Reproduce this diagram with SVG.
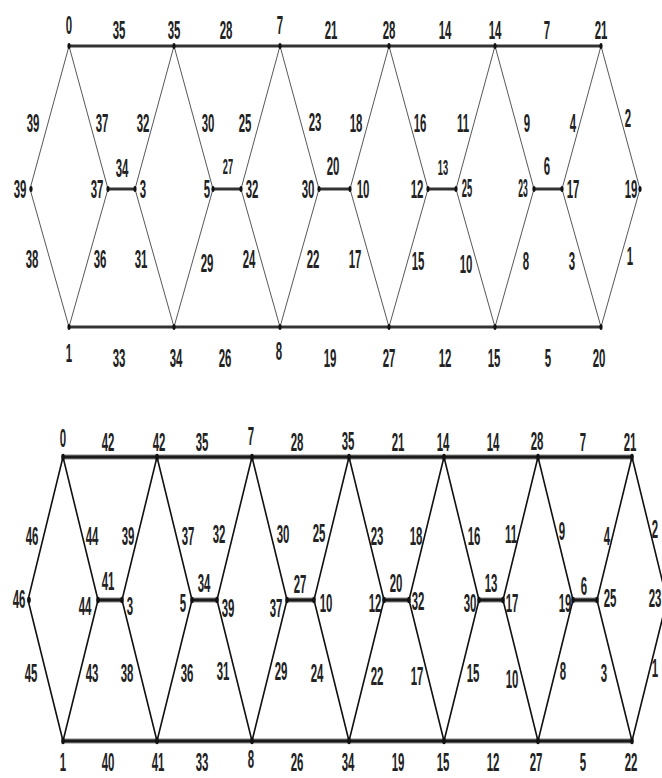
<svg xmlns="http://www.w3.org/2000/svg" width="662" height="778" viewBox="0 0 662 778">
<style>
.t{font-family:"Liberation Sans",Arial,sans-serif;font-weight:bold;font-size:26px;fill:#222;text-anchor:middle}
.s{font-size:22px}
.h1{stroke:#9a9a9a;stroke-width:4;fill:none}
.h1i{stroke:#333;stroke-width:2;fill:none}
.d1{stroke:#444;stroke-width:0.9;fill:none}
.h2{stroke:#888;stroke-width:5;fill:none}
.h2i{stroke:#1a1a1a;stroke-width:3;fill:none}
.d2{stroke:#111;stroke-width:1.6;fill:none}
.m{fill:#111}
</style>
<rect width="662" height="778" fill="#fff"/>
<g id="connectors">
<path class="h1" d="M69 46H601M69 327H601M108 189H135M213 189H241M319 189H350M428 189H456M534 189H562"/>
<path class="h1i" d="M69 46H601M69 327H601M108 189H135M213 189H241M319 189H350M428 189H456M534 189H562"/>
<path class="d1" d="M30 189L69 46L108 189M135 189L174 46L213 189M241 189L280 46L319 189M350 189L389 46L428 189M456 189L495 46L534 189M562 189L601 46L640 189
M30 189L69 327L108 189M135 189L174 327L213 189M241 189L280 327L319 189M350 189L389 327L428 189M456 189L495 327L534 189M562 189L601 327L640 189"/>
<path class="h2" d="M63 457H632M63 741H632M98 600H122M192 600H217M287 600H314M384 600H409M479 600H503M573 600H597"/>
<path class="h2i" d="M63 457H632M63 741H632M98 600H122M192 600H217M287 600H314M384 600H409M479 600H503M573 600H597"/>
<path class="d2" d="M28 600L63 457L98 600M122 600L157 457L192 600M217 600L252 457L287 600M314 600L349 457L384 600M409 600L444 457L479 600M503 600L538 457L573 600M597 600L632 457L667 600
M28 600L63 741L98 600M122 600L157 741L192 600M217 600L252 741L287 600M314 600L349 741L384 600M409 600L444 741L479 600M503 600L538 741L573 600M597 600L632 741L667 600"/>
<text class="t" transform="translate(119 39) scale(.44 1)">35</text>
<text class="t" transform="translate(226 39) scale(.44 1)">28</text>
<text class="t" transform="translate(331 39) scale(.44 1)">21</text>
<text class="t" transform="translate(445 39) scale(.44 1)">14</text>
<text class="t" transform="translate(547 39) scale(.44 1)">7</text>
<text class="t" transform="translate(33 132) scale(.44 1)">39</text>
<text class="t" transform="translate(102 132) scale(.44 1)">37</text>
<text class="t" transform="translate(143 132) scale(.44 1)">32</text>
<text class="t" transform="translate(208 132) scale(.44 1)">30</text>
<text class="t" transform="translate(245 132) scale(.44 1)">25</text>
<text class="t" transform="translate(315 131) scale(.44 1)">23</text>
<text class="t" transform="translate(356 132) scale(.44 1)">18</text>
<text class="t" transform="translate(420 132) scale(.44 1)">16</text>
<text class="t" transform="translate(463 132) scale(.44 1)">11</text>
<text class="t" transform="translate(527 132) scale(.44 1)">9</text>
<text class="t" transform="translate(573 132) scale(.44 1)">4</text>
<text class="t" transform="translate(628 127) scale(.44 1)">2</text>
<text class="t" transform="translate(122 177) scale(.44 1)">34</text>
<text class="t s" transform="translate(228 174) scale(.42 1)">27</text>
<text class="t" transform="translate(333 175) scale(.44 1)">20</text>
<text class="t s" transform="translate(443 175) scale(.42 1)">13</text>
<text class="t" transform="translate(547 175) scale(.44 1)">6</text>
<text class="t" transform="translate(32 268) scale(.44 1)">38</text>
<text class="t" transform="translate(100 268) scale(.44 1)">36</text>
<text class="t" transform="translate(141 268) scale(.44 1)">31</text>
<text class="t" transform="translate(207 272) scale(.44 1)">29</text>
<text class="t" transform="translate(249 268) scale(.44 1)">24</text>
<text class="t" transform="translate(313 268) scale(.44 1)">22</text>
<text class="t" transform="translate(355 268) scale(.44 1)">17</text>
<text class="t" transform="translate(418 270) scale(.44 1)">15</text>
<text class="t" transform="translate(466 273) scale(.44 1)">10</text>
<text class="t" transform="translate(526 270) scale(.44 1)">8</text>
<text class="t" transform="translate(572 270) scale(.44 1)">3</text>
<text class="t" transform="translate(630 265) scale(.44 1)">1</text>
<text class="t" transform="translate(119 367) scale(.44 1)">33</text>
<text class="t" transform="translate(225 367) scale(.44 1)">26</text>
<text class="t" transform="translate(330 367) scale(.44 1)">19</text>
<text class="t" transform="translate(445 367) scale(.44 1)">12</text>
<text class="t" transform="translate(548 367) scale(.44 1)">5</text>
<text class="t" transform="translate(108 451) scale(.44 1)">42</text>
<text class="t" transform="translate(202 451) scale(.44 1)">35</text>
<text class="t" transform="translate(297 451) scale(.44 1)">28</text>
<text class="t" transform="translate(398 451) scale(.44 1)">21</text>
<text class="t" transform="translate(493 451) scale(.44 1)">14</text>
<text class="t" transform="translate(583 451) scale(.44 1)">7</text>
<text class="t" transform="translate(32 545) scale(.44 1)">46</text>
<text class="t" transform="translate(92 545) scale(.44 1)">44</text>
<text class="t" transform="translate(128 545) scale(.44 1)">39</text>
<text class="t" transform="translate(188 545) scale(.44 1)">37</text>
<text class="t" transform="translate(219 543) scale(.44 1)">32</text>
<text class="t" transform="translate(283 543) scale(.44 1)">30</text>
<text class="t" transform="translate(319 542) scale(.44 1)">25</text>
<text class="t" transform="translate(377 545) scale(.44 1)">23</text>
<text class="t" transform="translate(416 545) scale(.44 1)">18</text>
<text class="t" transform="translate(474 545) scale(.44 1)">16</text>
<text class="t" transform="translate(511 543) scale(.44 1)">11</text>
<text class="t" transform="translate(562 540) scale(.44 1)">9</text>
<text class="t" transform="translate(607 545) scale(.44 1)">4</text>
<text class="t" transform="translate(655 538) scale(.44 1)">2</text>
<text class="t" transform="translate(108 590) scale(.44 1)">41</text>
<text class="t" transform="translate(204 592) scale(.44 1)">34</text>
<text class="t" transform="translate(300 593) scale(.44 1)">27</text>
<text class="t" transform="translate(396 592) scale(.44 1)">20</text>
<text class="t" transform="translate(491 592) scale(.44 1)">13</text>
<text class="t" transform="translate(584 595) scale(.44 1)">6</text>
<text class="t" transform="translate(31 682) scale(.44 1)">45</text>
<text class="t" transform="translate(92 682) scale(.44 1)">43</text>
<text class="t" transform="translate(127 682) scale(.44 1)">38</text>
<text class="t" transform="translate(187 682) scale(.44 1)">36</text>
<text class="t" transform="translate(223 680) scale(.44 1)">31</text>
<text class="t" transform="translate(281 680) scale(.44 1)">29</text>
<text class="t" transform="translate(317 682) scale(.44 1)">24</text>
<text class="t" transform="translate(377 685) scale(.44 1)">22</text>
<text class="t" transform="translate(417 685) scale(.44 1)">17</text>
<text class="t" transform="translate(473 682) scale(.44 1)">15</text>
<text class="t" transform="translate(512 688) scale(.44 1)">10</text>
<text class="t" transform="translate(563 680) scale(.44 1)">8</text>
<text class="t" transform="translate(604 682) scale(.44 1)">3</text>
<text class="t" transform="translate(655 677) scale(.44 1)">1</text>
<text class="t" transform="translate(108 771) scale(.44 1)">40</text>
<text class="t" transform="translate(202 771) scale(.44 1)">33</text>
<text class="t" transform="translate(297 771) scale(.44 1)">26</text>
<text class="t" transform="translate(398 771) scale(.44 1)">19</text>
<text class="t" transform="translate(493 771) scale(.44 1)">12</text>
<text class="t" transform="translate(583 771) scale(.44 1)">5</text>
</g>
<g id="g1-t0"><ellipse class="m" cx="69" cy="46" rx="1.6" ry="3"/><text class="t" transform="translate(69 34) scale(.44 1)">0</text></g>
<g id="g1-t35"><ellipse class="m" cx="174" cy="46" rx="1.6" ry="3"/><text class="t" transform="translate(174 39) scale(.44 1)">35</text></g>
<g id="g1-t7"><ellipse class="m" cx="280" cy="46" rx="1.6" ry="3"/><text class="t" transform="translate(280 34) scale(.44 1)">7</text></g>
<g id="g1-t28"><ellipse class="m" cx="389" cy="46" rx="1.6" ry="3"/><text class="t" transform="translate(389 39) scale(.44 1)">28</text></g>
<g id="g1-t14"><ellipse class="m" cx="495" cy="46" rx="1.6" ry="3"/><text class="t" transform="translate(495 39) scale(.44 1)">14</text></g>
<g id="g1-t21"><ellipse class="m" cx="601" cy="46" rx="1.6" ry="3"/><text class="t" transform="translate(601 39) scale(.44 1)">21</text></g>
<g id="g1-m39"><ellipse class="m" cx="31" cy="189" rx="1.6" ry="3"/><text class="t" transform="translate(20 198) scale(.44 1)">39</text></g>
<g id="g1-m37"><ellipse class="m" cx="108" cy="189" rx="1.6" ry="3"/><text class="t" transform="translate(97 198) scale(.44 1)">37</text></g>
<g id="g1-m3"><ellipse class="m" cx="135" cy="189" rx="1.6" ry="3"/><text class="t" transform="translate(143 198) scale(.44 1)">3</text></g>
<g id="g1-m5"><ellipse class="m" cx="213" cy="189" rx="1.6" ry="3"/><text class="t" transform="translate(207 198) scale(.44 1)">5</text></g>
<g id="g1-m32"><ellipse class="m" cx="241" cy="189" rx="1.6" ry="3"/><text class="t" transform="translate(252 198) scale(.44 1)">32</text></g>
<g id="g1-m30"><ellipse class="m" cx="319" cy="189" rx="1.6" ry="3"/><text class="t" transform="translate(308 198) scale(.44 1)">30</text></g>
<g id="g1-m10"><ellipse class="m" cx="350" cy="189" rx="1.6" ry="3"/><text class="t" transform="translate(363 198) scale(.44 1)">10</text></g>
<g id="g1-m12"><ellipse class="m" cx="428" cy="189" rx="1.6" ry="3"/><text class="t" transform="translate(417 198) scale(.44 1)">12</text></g>
<g id="g1-m25"><ellipse class="m" cx="456" cy="189" rx="1.6" ry="3"/><text class="t" transform="translate(467 197) scale(.36 1)">25</text></g>
<g id="g1-m23"><ellipse class="m" cx="534" cy="189" rx="1.6" ry="3"/><text class="t" transform="translate(523 197) scale(.33 1)">23</text></g>
<g id="g1-m17"><ellipse class="m" cx="562" cy="189" rx="1.6" ry="3"/><text class="t" transform="translate(573 198) scale(.44 1)">17</text></g>
<g id="g1-m19"><ellipse class="m" cx="640" cy="189" rx="1.6" ry="3"/><text class="t" transform="translate(631 198) scale(.44 1)">19</text></g>
<g id="g1-b1"><ellipse class="m" cx="69" cy="327" rx="1.6" ry="3"/><text class="t" transform="translate(69 362) scale(.44 1)">1</text></g>
<g id="g1-b34"><ellipse class="m" cx="174" cy="327" rx="1.6" ry="3"/><text class="t" transform="translate(176 367) scale(.44 1)">34</text></g>
<g id="g1-b8"><ellipse class="m" cx="280" cy="327" rx="1.6" ry="3"/><text class="t" transform="translate(279 360) scale(.44 1)">8</text></g>
<g id="g1-b27"><ellipse class="m" cx="389" cy="327" rx="1.6" ry="3"/><text class="t" transform="translate(389 367) scale(.44 1)">27</text></g>
<g id="g1-b15"><ellipse class="m" cx="495" cy="327" rx="1.6" ry="3"/><text class="t" transform="translate(494 367) scale(.44 1)">15</text></g>
<g id="g1-b20"><ellipse class="m" cx="601" cy="327" rx="1.6" ry="3"/><text class="t" transform="translate(599 367) scale(.44 1)">20</text></g>
<g id="g2-t0"><ellipse class="m" cx="63" cy="457" rx="1.8" ry="3.2"/><text class="t" transform="translate(63 447) scale(.44 1)">0</text></g>
<g id="g2-t42"><ellipse class="m" cx="157" cy="457" rx="1.8" ry="3.2"/><text class="t" transform="translate(159 451) scale(.44 1)">42</text></g>
<g id="g2-t7"><ellipse class="m" cx="252" cy="457" rx="1.8" ry="3.2"/><text class="t" transform="translate(251 445) scale(.44 1)">7</text></g>
<g id="g2-t35"><ellipse class="m" cx="349" cy="457" rx="1.8" ry="3.2"/><text class="t" transform="translate(348 450) scale(.44 1)">35</text></g>
<g id="g2-t14"><ellipse class="m" cx="444" cy="457" rx="1.8" ry="3.2"/><text class="t" transform="translate(443 451) scale(.44 1)">14</text></g>
<g id="g2-t28"><ellipse class="m" cx="538" cy="457" rx="1.8" ry="3.2"/><text class="t" transform="translate(537 450) scale(.44 1)">28</text></g>
<g id="g2-t21"><ellipse class="m" cx="632" cy="457" rx="1.8" ry="3.2"/><text class="t" transform="translate(630 451) scale(.44 1)">21</text></g>
<g id="g2-m46"><ellipse class="m" cx="29" cy="600" rx="1.8" ry="3.2"/><text class="t" transform="translate(19 608) scale(.44 1)">46</text></g>
<g id="g2-m44"><ellipse class="m" cx="98" cy="600" rx="1.8" ry="3.2"/><text class="t" transform="translate(85 615) scale(.44 1)">44</text></g>
<g id="g2-m3"><ellipse class="m" cx="122" cy="600" rx="1.8" ry="3.2"/><text class="t" transform="translate(130 615) scale(.44 1)">3</text></g>
<g id="g2-m5"><ellipse class="m" cx="192" cy="600" rx="1.8" ry="3.2"/><text class="t" transform="translate(183 612) scale(.44 1)">5</text></g>
<g id="g2-m39"><ellipse class="m" cx="217" cy="600" rx="1.8" ry="3.2"/><text class="t" transform="translate(228 617) scale(.44 1)">39</text></g>
<g id="g2-m37"><ellipse class="m" cx="287" cy="600" rx="1.8" ry="3.2"/><text class="t" transform="translate(276 617) scale(.44 1)">37</text></g>
<g id="g2-m10"><ellipse class="m" cx="314" cy="600" rx="1.8" ry="3.2"/><text class="t" transform="translate(326 612) scale(.44 1)">10</text></g>
<g id="g2-m12"><ellipse class="m" cx="384" cy="600" rx="1.8" ry="3.2"/><text class="t" transform="translate(375 612) scale(.44 1)">12</text></g>
<g id="g2-m32"><ellipse class="m" cx="409" cy="600" rx="1.8" ry="3.2"/><text class="t" transform="translate(418 610) scale(.44 1)">32</text></g>
<g id="g2-m30"><ellipse class="m" cx="479" cy="600" rx="1.8" ry="3.2"/><text class="t" transform="translate(470 612) scale(.44 1)">30</text></g>
<g id="g2-m17"><ellipse class="m" cx="503" cy="600" rx="1.8" ry="3.2"/><text class="t" transform="translate(512 612) scale(.44 1)">17</text></g>
<g id="g2-m19"><ellipse class="m" cx="573" cy="600" rx="1.8" ry="3.2"/><text class="t" transform="translate(565 612) scale(.44 1)">19</text></g>
<g id="g2-m25"><ellipse class="m" cx="597" cy="600" rx="1.8" ry="3.2"/><text class="t" transform="translate(610 607) scale(.44 1)">25</text></g>
<g id="g2-m23"><text class="t" transform="translate(655 607) scale(.44 1)">23</text></g>
<g id="g2-b1"><ellipse class="m" cx="63" cy="741" rx="1.8" ry="3.2"/><text class="t" transform="translate(63 771) scale(.44 1)">1</text></g>
<g id="g2-b41"><ellipse class="m" cx="157" cy="741" rx="1.8" ry="3.2"/><text class="t" transform="translate(158 771) scale(.44 1)">41</text></g>
<g id="g2-b8"><ellipse class="m" cx="252" cy="741" rx="1.8" ry="3.2"/><text class="t" transform="translate(251 768) scale(.44 1)">8</text></g>
<g id="g2-b34"><ellipse class="m" cx="349" cy="741" rx="1.8" ry="3.2"/><text class="t" transform="translate(348 771) scale(.44 1)">34</text></g>
<g id="g2-b15"><ellipse class="m" cx="444" cy="741" rx="1.8" ry="3.2"/><text class="t" transform="translate(443 771) scale(.44 1)">15</text></g>
<g id="g2-b27"><ellipse class="m" cx="538" cy="741" rx="1.8" ry="3.2"/><text class="t" transform="translate(536 771) scale(.44 1)">27</text></g>
<g id="g2-b22"><ellipse class="m" cx="632" cy="741" rx="1.8" ry="3.2"/><text class="t" transform="translate(631 771) scale(.44 1)">22</text></g>
</svg>
